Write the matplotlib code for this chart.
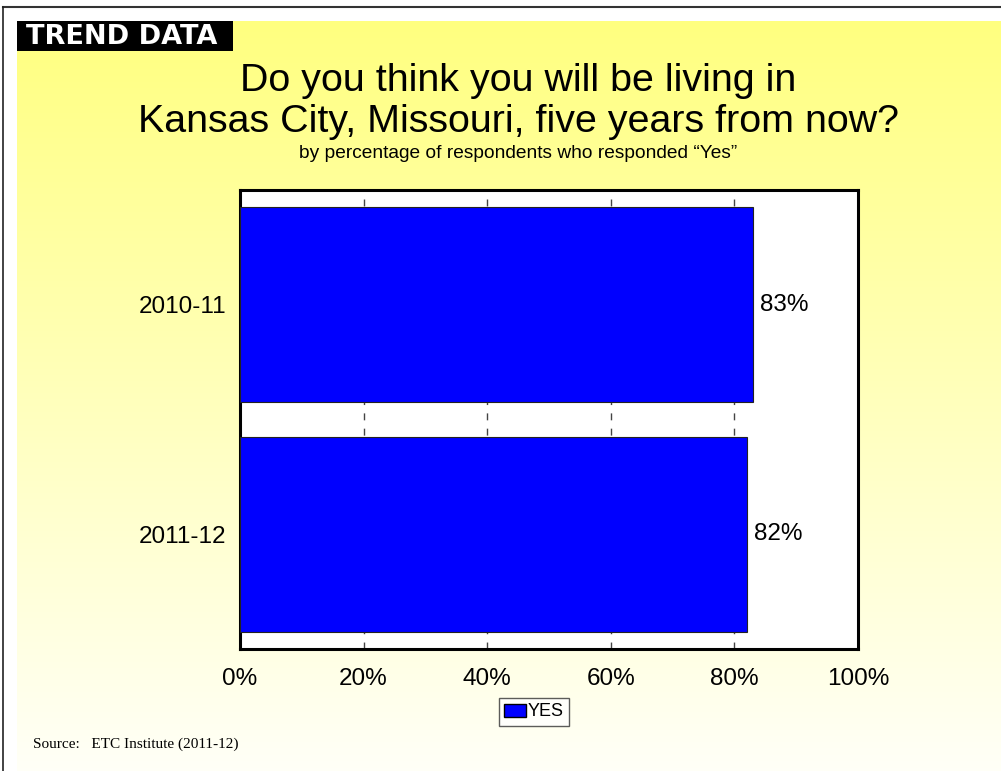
import numpy as np
import matplotlib
matplotlib.use('Agg')
import matplotlib.pyplot as plt
from matplotlib.lines import Line2D
from matplotlib.patches import Rectangle, Patch

plt.rcParams['font.family'] = ['Liberation Sans', 'DejaVu Sans']

years = ['2010-11', '2011-12']
yes_pct = [83, 82]
xticks = [0, 20, 40, 60, 80, 100]

W, H = 1001, 771
fig = plt.figure(figsize=(W / 100, H / 100), dpi=100)
fig.patch.set_facecolor('white')


def box(x0, y0, x1, y1):
    # pixel box (top-left origin) -> figure fraction rect
    return [x0 / W, 1 - y1 / H, (x1 - x0) / W, (y1 - y0) / H]


# yellow gradient panel
bg = fig.add_axes(box(17, 21, W, H), zorder=0)
grad = np.linspace(0, 1, 256).reshape(-1, 1)
top = np.array([1.0, 1.0, 0.50])
bottom = np.array([1.0, 1.0, 0.97])
img = top + (bottom - top) * grad[..., None]
bg.imshow(img, aspect='auto', extent=[0, 1, 0, 1], origin='upper')
bg.set_axis_off()

# outer frame lines
fig.add_artist(Line2D([2.5 / W, 1], [1 - 6.5 / H, 1 - 6.5 / H], color='#333333', lw=1.5))
fig.add_artist(Line2D([2.5 / W, 2.5 / W], [0, 1 - 6.5 / H], color='#222222', lw=1.2))

# header tag
fig.add_artist(Rectangle((17 / W, 1 - 51 / H), (233 - 17) / W, 30 / H,
                         transform=fig.transFigure, facecolor='black', edgecolor='none', zorder=2))
fig.text(26 / W, 1 - 37 / H, 'TREND DATA', color='white', fontsize=19.5, fontweight='bold',
         family='DejaVu Sans', ha='left', va='center', zorder=3)

# titles
fig.text(518 / W, 1 - 81 / H, 'Do you think you will be living in', fontsize=28.4,
         ha='center', va='center', zorder=3)
fig.text(518 / W, 1 - 122 / H, 'Kansas City, Missouri, five years from now?', fontsize=28.4,
         ha='center', va='center', zorder=3)
fig.text(518 / W, 1 - 153 / H, 'by percentage of respondents who responded \u201cYes\u201d',
         fontsize=13.8, ha='center', va='center', zorder=3)

# bar chart
ax = fig.add_axes(box(240, 190, 858, 649), zorder=2)
ax.set_facecolor('white')
y = np.arange(len(years))
bars = ax.barh(y, yes_pct, height=0.85, color='#0000FF', edgecolor='#222222',
               linewidth=0.8, label='YES', zorder=3)
ax.set_xlim(0, 100)
ax.set_ylim(1.5, -0.5)
ax.set_xticks(xticks)
ax.set_xticklabels([f'{v}%' for v in xticks], fontsize=17.5)
ax.set_yticks(y)
ax.set_yticklabels(years, fontsize=17.5)
ax.tick_params(axis='x', length=0, pad=14)
ax.tick_params(axis='y', length=0, pad=10)
ax.grid(axis='x', linestyle=(0, (5, 6)), color='#444444', linewidth=1, zorder=0)
for sp in ax.spines.values():
    sp.set_linewidth(2.2)
    sp.set_color('black')

for b, v in zip(bars, yes_pct):
    ax.text(v + 1.2, b.get_y() + b.get_height() / 2, f'{v}%', fontsize=17.5,
            ha='left', va='center', zorder=4)

leg = fig.legend(handles=[Patch(facecolor='#0000FF', edgecolor='black', label='YES')],
                 loc='center', bbox_to_anchor=(534 / W, 1 - 712 / H), fontsize=13,
                 frameon=True, fancybox=False, handlelength=1.2, handleheight=0.75,
                 handletextpad=0.1, borderpad=0.3, borderaxespad=0)
leg.get_frame().set_edgecolor('#333333')
leg.get_frame().set_linewidth(1)
leg.set_zorder(5)

fig.text(33 / W, 1 - 744 / H, 'Source:   ETC Institute (2011-12)', fontsize=11,
         family=['Liberation Serif', 'DejaVu Serif'], ha='left', va='center', zorder=3)

fig.savefig('out.png', dpi=100)
